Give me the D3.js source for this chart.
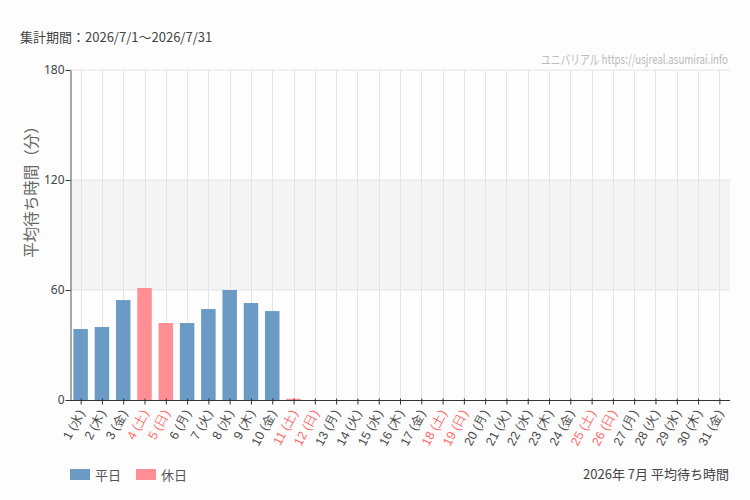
<!DOCTYPE html>
<html><head><meta charset="utf-8">
<script src="https://cdn.jsdelivr.net/npm/d3@7"></script>
<style>
html,body{margin:0;padding:0;background:#fcfdfc;}
svg{display:block;font-family:"Noto Sans CJK JP","Noto Sans",sans-serif;}
</style></head><body>
<svg id="c" width="750" height="500"></svg>
<script>
const days = d3.range(1, 32);
const weekdays = ["水","木","金","土","日","月","火"];
const values = [38.7, 39.8, 54.5, 61.1, 42, 42, 49.6, 60, 52.9, 48.5, 0.7,
  0,0,0,0,0,0,0,0,0,0,0,0,0,0,0,0,0,0,0,0];
const yTicks = [0, 60, 120, 180];
const title = "集計期間：2026/7/1〜2026/7/31";
const watermark = "ユニバリアル  https://usjreal.asumirai.info";
const yTitle = "平均待ち時間（分）";
const footer = "2026年 7月 平均待ち時間";
const legendItems = [{label:"平日", color:"#6b9ac4"}, {label:"休日", color:"#ff8f94"}];

const labels = days.map((d,i) => `${d} (${weekdays[i % 7]})`);
const isHoliday = days.map((d,i) => { const w = weekdays[i % 7]; return w === "土" || w === "日"; });

const svg = d3.select("#c");
const m = {l:70, r:730, t:70, b:400};
const x = d3.scaleBand().domain(labels).range([m.l, m.r]).paddingInner(0.32).paddingOuter(0.16);
const xc = d3.scalePoint().domain(labels).range([m.l + (m.r-m.l)/62, m.r - (m.r-m.l)/62]);
const y = d3.scaleLinear().domain([0,180]).range([m.b, m.t]);

// band 60-120
svg.append("rect").attr("x", m.l).attr("y", y(120)).attr("width", m.r-m.l).attr("height", y(60)-y(120)).attr("fill","#f4f4f4");
// horizontal grid
svg.append("g").selectAll("line").data([60,120,180]).join("line")
  .attr("x1", m.l).attr("x2", m.r).attr("y1", d=>y(d)).attr("y2", d=>y(d))
  .attr("stroke","#e4e4e4").attr("stroke-width",1);
// vertical grid
svg.append("g").selectAll("line").data(labels).join("line")
  .attr("x1", d=>Math.round(xc(d))+0.5).attr("x2", d=>Math.round(xc(d))+0.5)
  .attr("y1", m.t).attr("y2", m.b)
  .attr("stroke","#e4e4e4").attr("stroke-width",1);

// bars
svg.append("g").selectAll("rect").data(labels).join("rect")
  .attr("x", d=>xc(d) - x.bandwidth()/2)
  .attr("width", x.bandwidth())
  .attr("y", (d,i)=>y(values[i]))
  .attr("height", (d,i)=>y(0)-y(values[i]))
  .attr("fill", (d,i)=> isHoliday[i] ? legendItems[1].color : legendItems[0].color);

// y axis
const ya = svg.append("g").attr("transform",`translate(${m.l+0.5},0)`)
  .call(d3.axisLeft(y).tickValues(yTicks).tickSize(5).tickSizeOuter(0));
ya.select(".domain").attr("stroke","#555");
ya.selectAll(".tick line").attr("stroke","#333");
ya.selectAll(".tick text").attr("fill","#444").attr("font-size",12).attr("x",-6)
  .attr("font-family","'Noto Sans','Noto Sans CJK JP',sans-serif");

// x axis
const xa = svg.append("g").attr("transform",`translate(0,${m.b+0.5})`)
  .call(d3.axisBottom(xc).tickSize(4).tickSizeOuter(0));
xa.select(".domain").attr("stroke","#333").attr("d", `M${m.l},0H${m.r}`);
xa.selectAll(".tick line").attr("stroke","#333").attr("y1",-2);
xa.selectAll(".tick text")
  .attr("font-size",12.5)
  .attr("fill", (d,i)=> isHoliday[i] ? "#ff6b6b" : "#4a4a4a")
  .attr("text-anchor","end")
  .attr("dy","0.35em").attr("y",0)
  .attr("transform","translate(0,10) rotate(-62)")
  .attr("x",0);

// titles
svg.append("text").attr("x",20).attr("y",42).attr("font-size",13).attr("fill","#444").text(title);
svg.append("g").attr("transform","translate(728,64) scale(0.75,1)")
  .append("text").attr("x",0).attr("y",0).attr("text-anchor","end").attr("font-size",13)
  .attr("fill","#bbb").text(watermark);
svg.append("text").attr("transform",`translate(37,188) rotate(-90)`).attr("text-anchor","middle")
  .attr("font-size",15.5).attr("fill","#666").text(yTitle);

// legend
const lg = svg.append("g").selectAll("g").data(legendItems).join("g")
  .attr("transform",(d,i)=>`translate(${70 + i*66},469)`);
lg.append("rect").attr("width",20).attr("height",11).attr("fill",d=>d.color);
lg.append("text").attr("x",25).attr("y",10.5).attr("font-size",13).attr("fill","#555").text(d=>d.label);

svg.append("text").attr("x",729).attr("y",479).attr("text-anchor","end").attr("font-size",13).attr("fill","#444").text(footer);
</script>
</body></html>
